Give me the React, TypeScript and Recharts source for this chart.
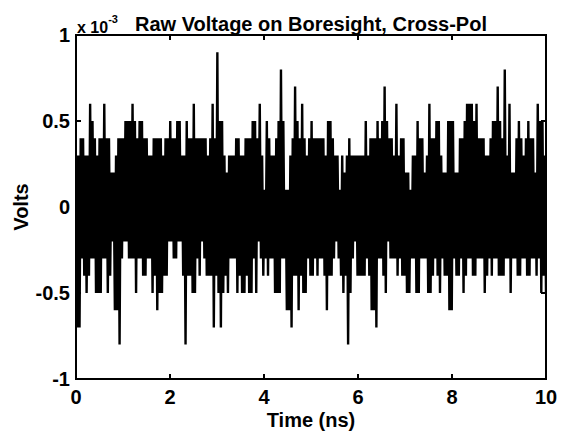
import React from "react";
import { LineChart, Line, XAxis, YAxis } from "recharts";

const FONT = '"Liberation Sans", Arial, Helvetica, sans-serif';

// Raw voltage samples in mV (the axis is scaled x 10^-3 V).
// Each line of pairs is one stretch of about 1.7 ns.
const seg1 = [
	0.3, -0.7, 0.3, -0.7, 0.4, -0.3, 0.4, -0.4, 0.3, -0.5, 0.3, -0.4, 0.6, -0.3, 0.5, -0.3, 0.4, -0.5,
	0.3, -0.5, 0.4, -0.5, 0.4, -0.3, 0.6, -0.3, 0.4, -0.5, 0.4, -0.4, 0.2, -0.2, 0.2, -0.6, 0.3, -0.6,
	0.4, -0.8, 0.4, -0.3, 0.4, -0.2, 0.5, -0.2, 0.5, -0.3, 0.5, -0.3, 0.6, -0.3, 0.5, -0.5, 0.4, -0.3,
	0.5, -0.3, 0.5, -0.4, 0.4, -0.4, 0.4, -0.3, 0.3, -0.3, 0.3, -0.5, 0.4, -0.4,
];
const seg2 = [
	0.4, -0.6, 0.4, -0.5, 0.4, -0.5, 0.3, -0.4, 0.4, -0.4, 0.4, -0.2, 0.5, -0.2, 0.4, -0.3, 0.4, -0.3,
	0.5, -0.2, 0.5, -0.2, 0.3, -0.4, 0.3, -0.8, 0.5, -0.4, 0.4, -0.4, 0.4, -0.5, 0.6, -0.5, 0.4, -0.3,
	0.4, -0.4, 0.4, -0.2, 0.4, -0.3, 0.4, -0.4, 0.3, -0.4, 0.4, -0.4, 0.6, -0.7, 0.4, -0.4, 0.9, -0.5,
	0.5, -0.7, 0.5, -0.5, 0.3, -0.4, 0.2, -0.5, 0.3, -0.3, 0.3, -0.3, 0.3, -0.3,
];
const seg3 = [
	0.4, -0.5, 0.4, -0.4, 0.3, -0.5, 0.3, -0.5, 0.4, -0.4, 0.4, -0.5, 0.4, -0.5, 0.5, -0.3, 0.5, -0.5,
	0.4, -0.2, 0.6, -0.3, 0.3, -0.4, 0.1, -0.3, 0.5, -0.4, 0.4, -0.3, 0.3, -0.3, 0.3, -0.5, 0.4, -0.5,
	0.5, -0.5, 0.8, -0.3, 0.5, -0.3, 0.1, -0.6, 0.1, -0.6, 0.3, -0.7, 0.4, -0.4, 0.7, -0.4, 0.5, -0.6,
	0.4, -0.4, 0.6, -0.5, 0.4, -0.5, 0.3, -0.3, 0.4, -0.4, 0.5, -0.4, 0.4, -0.3,
];
const seg4 = [
	0.4, -0.4, 0.4, -0.3, 0.4, -0.3, 0.4, -0.4, 0.3, -0.6, 0.5, -0.4, 0.5, -0.4, 0.4, -0.3, 0.3, -0.2,
	0.3, -0.3, 0.1, -0.4, 0.3, -0.5, 0.2, -0.4, 0.3, -0.8, 0.4, -0.5, 0.3, -0.3, 0.3, -0.2, 0.3, -0.4,
	0.3, -0.4, 0.3, -0.4, 0.3, -0.4, 0.5, -0.3, 0.3, -0.4, 0.4, -0.6, 0.4, -0.6, 0.4, -0.7, 0.5, -0.3,
	0.4, -0.3, 0.5, -0.4, 0.7, -0.5, 0.5, -0.2, 0.4, -0.3, 0.4, -0.3, 0.3, -0.3,
];
const seg5 = [
	0.6, -0.4, 0.3, -0.3, 0.4, -0.4, 0.4, -0.4, 0.2, -0.5, 0.2, -0.5, 0.1, -0.3, 0.3, -0.3, 0.3, -0.5,
	0.5, -0.5, 0.4, -0.3, 0.4, -0.3, 0.2, -0.3, 0.3, -0.5, 0.6, -0.5, 0.4, -0.4, 0.4, -0.3, 0.5, -0.4,
	0.5, -0.5, 0.3, -0.3, 0.2, -0.4, 0.2, -0.4, 0.5, -0.6, 0.5, -0.6, 0.5, -0.3, 0.2, -0.4, 0.2, -0.4,
	0.4, -0.3, 0.4, -0.5, 0.5, -0.4, 0.6, -0.3, 0.6, -0.3, 0.6, -0.4, 0.5, -0.4,
];
const seg6 = [
	0.6, -0.3, 0.4, -0.3, 0.4, -0.3, 0.4, -0.5, 0.3, -0.4, 0.3, -0.3, 0.4, -0.4, 0.5, -0.3, 0.5, -0.3,
	0.7, -0.4, 0.5, -0.4, 0.4, -0.4, 0.8, -0.3, 0.3, -0.3, 0.6, -0.5, 0.2, -0.3, 0.2, -0.3, 0.4, -0.4,
	0.5, -0.4, 0.4, -0.3, 0.3, -0.3, 0.4, -0.4, 0.5, -0.4, 0.4, -0.3, 0.4, -0.3, 0.2, -0.4, 0.6, -0.3,
	0.5, -0.5, 0.5, -0.4, 0.3, -0.5,
];

const volts = [...seg1, ...seg2, ...seg3, ...seg4, ...seg5, ...seg6];
const T_END = 10; // ns
const data = volts.map((v, i) => ({ t: (i * T_END) / (volts.length - 1), v }));

const xTicks = [0, 2, 4, 6, 8, 10];
const yTicks = [-1, -0.5, 0, 0.5, 1];

const W = 565;
const H = 436;
const margin = { top: 35, right: 19, bottom: 27, left: 36 };
const Y_AXIS_W = 40;
const X_AXIS_H = 30;
// plot box, same numbers recharts uses for its layout
const BOX = {
	left: margin.left + Y_AXIS_W,
	top: margin.top,
	right: W - margin.right,
	bottom: H - margin.bottom - X_AXIS_H,
};
const TICK_MARGIN = 8;
const TICK_LEN = 5;

const textStyle = { fontFamily: FONT, fontSize: 20, fontWeight: 700, fill: "#000" };

const BottomTick = ({ x, y, payload }: any) => (
	<text x={x} y={y - TICK_MARGIN + 25} textAnchor="middle" style={textStyle}>
		{payload.value}
	</text>
);

const LeftTick = ({ x, y, payload }: any) => (
	<text x={x + TICK_MARGIN - 6} y={y + 7} textAnchor="end" style={textStyle}>
		{payload.value}
	</text>
);

// MATLAB style box with short ticks pointing inwards on all four sides
const Box = () => {
	const bw = BOX.right - BOX.left;
	const bh = BOX.bottom - BOX.top;
	const tx = (t: number) => BOX.left + (t / T_END) * bw;
	const vy = (v: number) => BOX.top + ((1 - v) / 2) * bh;
	return (
		<g stroke="#000" strokeWidth={2} fill="none">
			<rect x={BOX.left} y={BOX.top} width={bw} height={bh} />
			{xTicks.slice(1, -1).map((t) => (
				<g key={`x${t}`}>
					<line x1={tx(t)} x2={tx(t)} y1={BOX.bottom} y2={BOX.bottom - TICK_LEN} />
					<line x1={tx(t)} x2={tx(t)} y1={BOX.top} y2={BOX.top + TICK_LEN} />
				</g>
			))}
			{yTicks.slice(1, -1).map((v) => (
				<g key={`y${v}`}>
					<line x1={BOX.left} x2={BOX.left + TICK_LEN} y1={vy(v)} y2={vy(v)} />
					<line x1={BOX.right} x2={BOX.right - TICK_LEN} y1={vy(v)} y2={vy(v)} />
				</g>
			))}
		</g>
	);
};

export default function App() {
	return (
		<div style={{ position: "absolute", left: 0, top: 0, width: W, height: H, background: "#fff" }}>
			<LineChart width={W} height={H} data={data} margin={margin}>
				<XAxis
					dataKey="t"
					type="number"
					domain={[0, 10]}
					ticks={xTicks}
					allowDataOverflow
					height={X_AXIS_H}
					tickSize={0}
					tickMargin={TICK_MARGIN}
					axisLine={false}
					tick={BottomTick}
				/>
				<YAxis
					dataKey="v"
					type="number"
					domain={[-1, 1]}
					ticks={yTicks}
					allowDataOverflow
					width={Y_AXIS_W}
					tickSize={0}
					tickMargin={TICK_MARGIN}
					axisLine={false}
					tick={LeftTick}
				/>
				<Line
					type="linear"
					dataKey="v"
					stroke="#000"
					strokeWidth={2.4}
					dot={false}
					activeDot={false}
					isAnimationActive={false}
				/>
			</LineChart>
			<svg
				width={W}
				height={H}
				style={{ position: "absolute", left: 0, top: 0, pointerEvents: "none" }}
			>
				<Box />
				<text x={77} y={33} style={{ ...textStyle, fontSize: 16 }}>
					x 10
					<tspan dy={-10} style={{ fontSize: 11 }}>
						-3
					</tspan>
				</text>
				<text x={311} y={31} textAnchor="middle" style={textStyle}>
					Raw Voltage on Boresight, Cross-Pol
				</text>
				<text x={311} y={427} textAnchor="middle" style={textStyle}>
					Time (ns)
				</text>
				<text x={28} y={207} textAnchor="middle" transform="rotate(-90 28 207)" style={textStyle}>
					Volts
				</text>
			</svg>
		</div>
	);
}
